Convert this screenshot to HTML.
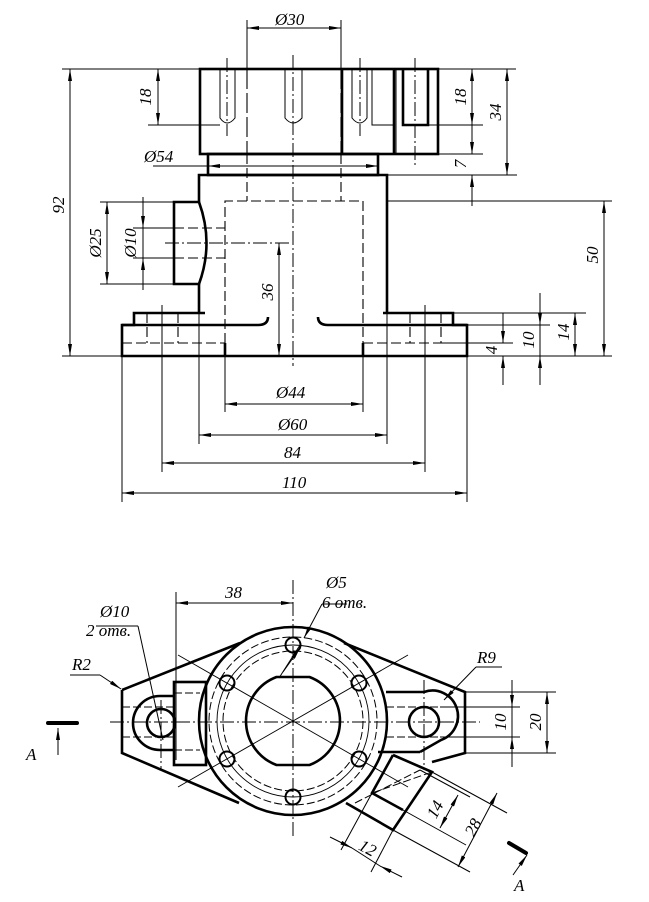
<!DOCTYPE html>
<html><head><meta charset="utf-8"><style>
html,body{margin:0;padding:0;background:#fff;}
svg{display:block;}
text{font-family:"Liberation Serif",serif;font-style:italic;font-size:17px;fill:#000;}
</style></head><body>
<svg width="649" height="902" viewBox="0 0 649 902" xmlns="http://www.w3.org/2000/svg">
<defs>
<marker id="a" viewBox="0 0 12 4" refX="12" refY="2" markerWidth="12" markerHeight="4" markerUnits="userSpaceOnUse" orient="auto-start-reverse"><path d="M0,0 L12,2 L0,4 z" fill="#000"/></marker>
</defs>
<g fill="none" stroke="#000" stroke-linecap="butt">
<!-- ===== FRONT VIEW ===== -->
<g stroke-width="2.6">
<rect x="200" y="69" width="238" height="85"/>
<line x1="342" y1="69" x2="342" y2="154"/>
<line x1="394" y1="69" x2="394" y2="154"/>
<path d="M403,69 V125 H428 V69"/>
<rect x="208" y="154" width="170" height="21"/>
<path d="M199,202 V175 H387 V313"/>
<path d="M199,284 V313"/>
<path d="M199,202 H174 V284 H199 Q214,243 199,202"/>
<path d="M205,313 H134 V325 H122 V356 H467 V325 H453 V313 H383"/>
<path d="M122,325 H258 Q268,325 268,317"/>
<path d="M318,317 Q318,325 328,325 H467"/>
<line x1="225" y1="343" x2="225" y2="356"/>
<line x1="363" y1="343" x2="363" y2="356"/>
</g>
<g stroke-width="1">
<path d="M220,69 V118 Q227,128 235,118 V69"/>
<path d="M285,69 V118 Q293,128 302,118 V69"/>
<path d="M352,69 V118 Q360,128 367,118 V69"/>
<path d="M372,69 V125 H394"/>
<line x1="396" y1="69" x2="396" y2="154"/>
</g>
<g stroke-width="1" stroke-dasharray="14,3,2,3">
<line x1="227" y1="58" x2="227" y2="136"/>
<line x1="293" y1="55" x2="293" y2="366"/>
<line x1="360" y1="58" x2="360" y2="136"/>
<line x1="415" y1="58" x2="415" y2="165"/>
<line x1="165" y1="243" x2="290" y2="243"/>
</g>
<g stroke-width="1.1" stroke-dasharray="10,4">
<line x1="247" y1="154" x2="247" y2="201"/>
<line x1="341" y1="154" x2="341" y2="201"/>
<line x1="247" y1="69" x2="247" y2="154" stroke-dasharray="20,4"/>
<line x1="341" y1="69" x2="341" y2="154" stroke-dasharray="20,4"/>
<path d="M225,343 V201 H363 V343"/>
<line x1="122" y1="343" x2="225" y2="343"/>
<line x1="363" y1="343" x2="467" y2="343"/>
<line x1="147" y1="313" x2="147" y2="343"/>
<line x1="178" y1="313" x2="178" y2="343"/>
<line x1="410" y1="313" x2="410" y2="343"/>
<line x1="441" y1="313" x2="441" y2="343"/>
<line x1="174" y1="228" x2="225" y2="228"/>
<line x1="174" y1="258" x2="225" y2="258"/>
</g>
<g stroke-width="1">
<line x1="247" y1="20" x2="247" y2="69"/>
<line x1="341" y1="20" x2="341" y2="69"/>
<line x1="247" y1="28" x2="341" y2="28" marker-start="url(#a)" marker-end="url(#a)"/>
<line x1="62" y1="69" x2="200" y2="69"/>
<line x1="438" y1="69" x2="516" y2="69"/>
<line x1="148" y1="125" x2="220" y2="125"/>
<line x1="428" y1="125" x2="483" y2="125"/>
<line x1="438" y1="154" x2="483" y2="154"/>
<line x1="387" y1="175" x2="517" y2="175"/>
<line x1="387" y1="201" x2="612" y2="201"/>
<line x1="62" y1="356" x2="122" y2="356"/>
<line x1="467" y1="356" x2="612" y2="356"/>
<line x1="453" y1="313" x2="586" y2="313"/>
<line x1="467" y1="325" x2="550" y2="325"/>
<line x1="441" y1="343" x2="513" y2="343"/>
<line x1="100" y1="202" x2="174" y2="202"/>
<line x1="100" y1="284" x2="174" y2="284"/>
<line x1="133" y1="228" x2="174" y2="228"/>
<line x1="133" y1="258" x2="174" y2="258"/>
<line x1="158" y1="69" x2="158" y2="125" marker-start="url(#a)" marker-end="url(#a)"/>
<line x1="70" y1="69" x2="70" y2="356" marker-start="url(#a)" marker-end="url(#a)"/>
<line x1="107" y1="202" x2="107" y2="284" marker-start="url(#a)" marker-end="url(#a)"/>
<line x1="143" y1="197" x2="143" y2="228" marker-end="url(#a)"/>
<line x1="143" y1="290" x2="143" y2="258" marker-end="url(#a)"/>
<line x1="143" y1="228" x2="143" y2="258"/>
<line x1="279" y1="243" x2="279" y2="356" marker-start="url(#a)" marker-end="url(#a)"/>
<line x1="153" y1="166" x2="378" y2="166"/>
<line x1="230" y1="166" x2="208" y2="166" marker-end="url(#a)"/>
<line x1="356" y1="166" x2="378" y2="166" marker-end="url(#a)"/>
<line x1="472" y1="69" x2="472" y2="125" marker-start="url(#a)" marker-end="url(#a)"/>
<line x1="472" y1="125" x2="472" y2="154" marker-end="url(#a)"/>
<line x1="472" y1="195" x2="472" y2="175" marker-end="url(#a)"/>
<line x1="472" y1="175" x2="472" y2="206"/>
<line x1="507" y1="69" x2="507" y2="175" marker-start="url(#a)" marker-end="url(#a)"/>
<line x1="604" y1="201" x2="604" y2="356" marker-start="url(#a)" marker-end="url(#a)"/>
<line x1="503" y1="313" x2="503" y2="343" marker-end="url(#a)"/>
<line x1="503" y1="385" x2="503" y2="356" marker-end="url(#a)"/>
<line x1="540" y1="293" x2="540" y2="325" marker-end="url(#a)"/>
<line x1="540" y1="385" x2="540" y2="356" marker-end="url(#a)"/>
<line x1="540" y1="325" x2="540" y2="356"/>
<line x1="575" y1="313" x2="575" y2="356" marker-start="url(#a)" marker-end="url(#a)"/>
<line x1="122" y1="356" x2="122" y2="502"/>
<line x1="467" y1="356" x2="467" y2="502"/>
<line x1="162" y1="305" x2="162" y2="472"/>
<line x1="425" y1="305" x2="425" y2="472"/>
<line x1="199" y1="313" x2="199" y2="444"/>
<line x1="387" y1="313" x2="387" y2="444"/>
<line x1="225" y1="356" x2="225" y2="412"/>
<line x1="363" y1="356" x2="363" y2="412"/>
<line x1="225" y1="404" x2="363" y2="404" marker-start="url(#a)" marker-end="url(#a)"/>
<line x1="199" y1="435" x2="387" y2="435" marker-start="url(#a)" marker-end="url(#a)"/>
<line x1="162" y1="463" x2="425" y2="463" marker-start="url(#a)" marker-end="url(#a)"/>
<line x1="122" y1="493" x2="467" y2="493" marker-start="url(#a)" marker-end="url(#a)"/>
</g>

<!-- ===== TOP VIEW ===== -->
<g stroke-width="2.6">
<circle cx="293" cy="721" r="94"/>
<path d="M276.5,677 H309.5 A47,47 0 0 1 309.5,765 H276.5 A47,47 0 0 1 276.5,677 z"/>
<path d="M122,690 L240,643"/>
<path d="M122,690 V753 L239,803"/>
<path d="M344,643 L465,692 V753 L432,762"/>
<path d="M160,696 A27,27 0 0 0 160,750"/>
<path d="M160,696 H173 M160,750 H173"/>
<circle cx="161" cy="723" r="14"/>
<rect x="174" y="682" width="32" height="83"/>
<path d="M386,692 H424 A24,24 0 0 1 441,740 L420,752"/>
<circle cx="424" cy="722" r="15"/>
<path d="M378,752 L420,752"/>
<path d="M393,755 L432,772 L393,830 L346,803"/>
<path d="M393,755 L372,793 L403,810"/>
</g>
<g stroke-width="2">
<circle cx="293" cy="645" r="7.5"/>
<circle cx="293" cy="797" r="7.5"/>
<circle cx="227" cy="683" r="7.5"/>
<circle cx="359" cy="683" r="7.5"/>
<circle cx="227" cy="759" r="7.5"/>
<circle cx="359" cy="759" r="7.5"/>
</g>
<g stroke-width="1" stroke-dasharray="8,3">
<circle cx="293" cy="721" r="84"/>
<circle cx="293" cy="721" r="70"/>
<line x1="122" y1="707" x2="174" y2="707"/>
<line x1="122" y1="737" x2="174" y2="737"/>
<line x1="174" y1="693" x2="200" y2="693"/>
<line x1="174" y1="750" x2="200" y2="750"/>
<line x1="386" y1="707" x2="465" y2="707"/>
<line x1="386" y1="737" x2="465" y2="737"/>
<line x1="372" y1="793" x2="432" y2="772"/>
<line x1="355" y1="803" x2="420" y2="770"/>
</g>
<g stroke-width="0.9">
<circle cx="293" cy="721" r="76"/>
<line x1="178" y1="655" x2="408" y2="787"/>
<line x1="178" y1="787" x2="408" y2="655"/>
</g>
<g stroke-width="1" stroke-dasharray="14,3,2,3">
<line x1="293" y1="580" x2="293" y2="838"/>
<line x1="110" y1="722" x2="480" y2="722"/>
<line x1="161" y1="700" x2="161" y2="770"/>
<line x1="424" y1="680" x2="424" y2="770"/>
</g>
<g stroke-width="1">
<line x1="176" y1="592" x2="176" y2="760"/>
<line x1="176" y1="603" x2="293" y2="603" marker-start="url(#a)" marker-end="url(#a)"/>
<line x1="465" y1="692" x2="556" y2="692"/>
<line x1="465" y1="753" x2="556" y2="753"/>
<line x1="440" y1="707" x2="520" y2="707"/>
<line x1="440" y1="737" x2="520" y2="737"/>
<line x1="512" y1="680" x2="512" y2="707" marker-end="url(#a)"/>
<line x1="512" y1="767" x2="512" y2="737" marker-end="url(#a)"/>
<line x1="512" y1="707" x2="512" y2="737"/>
<line x1="547" y1="692" x2="547" y2="753" marker-start="url(#a)" marker-end="url(#a)"/>
<line x1="432" y1="772" x2="507" y2="813"/>
<line x1="403" y1="810" x2="466" y2="845"/>
<line x1="393" y1="830" x2="470" y2="872"/>
<line x1="420" y1="770" x2="470" y2="797"/>
<line x1="497" y1="793" x2="458" y2="867" marker-start="url(#a)" marker-end="url(#a)"/>
<line x1="458" y1="795" x2="440" y2="828" marker-start="url(#a)" marker-end="url(#a)"/>
<line x1="372" y1="793" x2="341" y2="850"/>
<line x1="393" y1="830" x2="371" y2="872"/>
<line x1="330" y1="837" x2="352" y2="848" marker-end="url(#a)"/>
<line x1="402" y1="877" x2="380" y2="866" marker-end="url(#a)"/>
<line x1="352" y1="848" x2="380" y2="866"/>
<line x1="322" y1="604" x2="347" y2="604"/>
<line x1="322" y1="604" x2="304" y2="638" marker-end="url(#a)"/>
<line x1="300" y1="645" x2="279" y2="678"/>
<line x1="300" y1="648" x2="283" y2="672" marker-start="url(#a)"/>
<line x1="96" y1="626" x2="138" y2="626"/>
<line x1="138" y1="626" x2="163" y2="740"/>
<line x1="70" y1="675" x2="100" y2="675"/>
<line x1="100" y1="675" x2="121" y2="689" marker-end="url(#a)"/>
<line x1="476" y1="667" x2="502" y2="667"/>
<line x1="476" y1="667" x2="444" y2="700" marker-end="url(#a)"/>
<line x1="58" y1="755" x2="58" y2="728" marker-end="url(#a)"/>
<line x1="513" y1="875" x2="527" y2="855" marker-end="url(#a)"/>
</g>
<line x1="48" y1="723" x2="77" y2="723" stroke-width="4" stroke-linecap="round"/>
<line x1="509" y1="843" x2="526" y2="853" stroke-width="4" stroke-linecap="round"/>
</g>

<text x="275" y="25">Ø30</text>
<text x="144" y="162">Ø54</text>
<text transform="translate(151,97) rotate(-90)" text-anchor="middle">18</text>
<text transform="translate(64,205) rotate(-90)" text-anchor="middle">92</text>
<text transform="translate(101,243) rotate(-90)" text-anchor="middle">Ø25</text>
<text transform="translate(136,243) rotate(-90)" text-anchor="middle">Ø10</text>
<text transform="translate(273,292) rotate(-90)" text-anchor="middle">36</text>
<text transform="translate(466,97) rotate(-90)" text-anchor="middle">18</text>
<text transform="translate(501,112) rotate(-90)" text-anchor="middle">34</text>
<text transform="translate(466,164) rotate(-90)" text-anchor="middle">7</text>
<text transform="translate(598,255) rotate(-90)" text-anchor="middle">50</text>
<text transform="translate(497,350) rotate(-90)" text-anchor="middle">4</text>
<text transform="translate(534,340) rotate(-90)" text-anchor="middle">10</text>
<text transform="translate(569,332) rotate(-90)" text-anchor="middle">14</text>
<text x="276" y="398">Ø44</text>
<text x="278" y="430">Ø60</text>
<text x="284" y="458">84</text>
<text x="282" y="488">110</text>
<text x="225" y="598">38</text>
<text x="326" y="588">Ø5</text>
<text x="322" y="608" font-size="14">6 отв.</text>
<text x="100" y="617">Ø10</text>
<text x="86" y="636" font-size="14">2 отв.</text>
<text x="72" y="670">R2</text>
<text x="477" y="663">R9</text>
<text transform="translate(506,722) rotate(-90)" text-anchor="middle">10</text>
<text transform="translate(541,722) rotate(-90)" text-anchor="middle">20</text>
<text transform="translate(440,812) rotate(-62)" text-anchor="middle">14</text>
<text transform="translate(478,830) rotate(-62)" text-anchor="middle">28</text>
<text transform="translate(365,853) rotate(28)" text-anchor="middle">12</text>
<text x="26" y="760" font-size="24">A</text>
<text x="514" y="891" font-size="24">A</text>
</svg>
</body></html>
